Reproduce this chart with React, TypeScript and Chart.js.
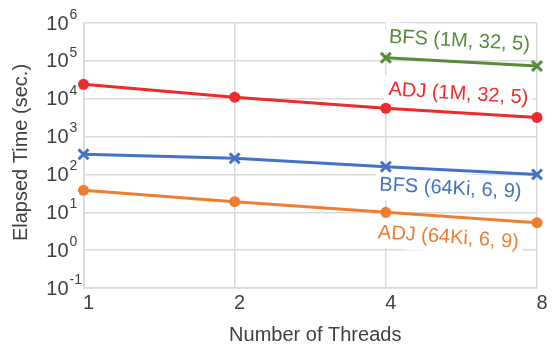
import React, { useEffect, useRef } from "react";
import { Chart, registerables } from "chart.js";

Chart.register(...registerables);

const threads = [1, 2, 4, 8];
const bfs1M = [null, null, 1.2e5, 7.3e4];
const adj1M = [2.4e4, 1.1e4, 5.6e3, 3.2e3];
const bfs64Ki = [340, 267, 160, 100];
const adj64Ki = [38, 19, 10, 5.3];

const xTickValues = [1, 2, 4, 8];
const yExponents = [-1, 0, 1, 2, 3, 4, 5, 6];

const seriesNames = ["BFS (1M, 32, 5)", "ADJ (1M, 32, 5)", "BFS (64Ki, 6, 9)", "ADJ (64Ki, 6, 9)"];
const seriesColors = ["#5A8A3C", "#EE2A2A", "#4472C4", "#ED7D31"];
// label offsets (pixels) relative to the midpoint of the 4→8 segment
const labelOffsets = [
  [-2, -21],
  [-3, -19],
  [-11, 18],
  [-13, 20],
];

const xTitle = "Number of Threads";
const yTitle = "Elapsed Time (sec.)";

const FONT = "'Liberation Sans', Arial, sans-serif";
const TEXT = "#404040";
const GRID = "#d9d9d9";

const toPts = (vals: (number | null)[]) => threads.map((t, i) => ({ x: t, y: vals[i] }));

const textPlugin = {
  id: "customText",
  beforeDatasetsDraw(chart: any) {
    const ctx = chart.ctx;
    ctx.save();
    ctx.font = `20px ${FONT}`;
    seriesNames.forEach((name, i) => {
      const meta = chart.getDatasetMeta(i);
      const p2 = meta.data[2];
      const p3 = meta.data[3];
      const ang = Math.atan2(p3.y - p2.y, p3.x - p2.x);
      const cx = (p2.x + p3.x) / 2 + labelOffsets[i][0];
      const cy = (p2.y + p3.y) / 2 + labelOffsets[i][1];
      const w = ctx.measureText(name).width;
      ctx.save();
      ctx.translate(cx, cy);
      ctx.rotate(ang);
      ctx.fillStyle = "#ffffff";
      ctx.fillRect(-w / 2 - 4, -15, w + 8, 30);
      ctx.fillStyle = seriesColors[i];
      ctx.textAlign = "center";
      ctx.textBaseline = "middle";
      ctx.fillText(name, 0, 0);
      ctx.restore();
    });
    ctx.restore();
  },
  afterDraw(chart: any) {
    const ctx = chart.ctx;
    const xs = chart.scales.x;
    const ys = chart.scales.y;
    const area = chart.chartArea;
    ctx.save();
    ctx.fillStyle = TEXT;
    // y tick labels
    yExponents.forEach((e) => {
      const py = ys.getPixelForValue(Math.pow(10, e));
      ctx.font = `20px ${FONT}`;
      ctx.textAlign = "right";
      ctx.textBaseline = "middle";
      ctx.fillText("10", area.left - 15, py + 1);
      ctx.font = `14px ${FONT}`;
      ctx.textAlign = "left";
      ctx.fillText(String(e).replace("-", "-"), area.left - 14, py - 8);
    });
    // x tick labels
    ctx.font = `20px ${FONT}`;
    ctx.textAlign = "center";
    ctx.textBaseline = "middle";
    xTickValues.forEach((v) => {
      const px = xs.getPixelForValue(v);
      ctx.fillText(String(v), px + 5, area.bottom + 15);
    });
    // x title
    ctx.fillText(xTitle, (area.left + area.right) / 2 + 5, area.bottom + 47);
    // y title
    ctx.save();
    ctx.translate(21, (area.top + area.bottom) / 2 - 3);
    ctx.rotate(-Math.PI / 2);
    ctx.fillText(yTitle, 0, 0);
    ctx.restore();
    ctx.restore();
  },
};

export default function App() {
  const ref = useRef<HTMLCanvasElement>(null);
  useEffect(() => {
    document.body.style.margin = "0";
    const canvas = ref.current!;
    const mk = (i: number, vals: (number | null)[], cross: boolean) => ({
      label: seriesNames[i],
      data: toPts(vals),
      borderColor: seriesColors[i],
      backgroundColor: seriesColors[i],
      borderWidth: 3,
      pointStyle: cross ? "crossRot" : "circle",
      pointRadius: cross ? 7 : 5.5,
      pointBorderWidth: cross ? 3 : 0,
      pointBorderColor: seriesColors[i],
      pointBackgroundColor: seriesColors[i],
      clip: false,
      spanGaps: false,
    });
    const chart = new Chart(canvas, {
      type: "line",
      data: {
        datasets: [
          mk(0, bfs1M, true),
          mk(1, adj1M, false),
          mk(2, bfs64Ki, true),
          mk(3, adj64Ki, false),
        ],
      },
      options: {
        animation: false,
        responsive: false,
        devicePixelRatio: 1,
        layout: { padding: { top: 23, right: 15, left: 0, bottom: 0 } },
        plugins: { legend: { display: false }, tooltip: { enabled: false } },
        scales: {
          x: {
            type: "logarithmic",
            min: 1,
            max: 8,
            afterBuildTicks: (s: any) => {
              s.ticks = xTickValues.map((v) => ({ value: v }));
            },
            afterFit: (s: any) => {
              s.height = 61;
            },
            ticks: { display: false },
            grid: { color: GRID, lineWidth: 1.5, drawTicks: false },
            border: { display: true, color: GRID, width: 1.5 },
          },
          y: {
            type: "logarithmic",
            min: 0.1,
            max: 1e6,
            afterBuildTicks: (s: any) => {
              s.ticks = yExponents.map((e) => ({ value: Math.pow(10, e) }));
            },
            afterFit: (s: any) => {
              s.width = 83.5;
            },
            ticks: { display: false },
            grid: { color: GRID, lineWidth: 1.5, drawTicks: false },
            border: { display: true, color: GRID, width: 1.5 },
          },
        },
      },
      plugins: [textPlugin],
    } as any);
    return () => chart.destroy();
  }, []);
  return <canvas ref={ref} width={552} height={349} style={{ display: "block" }} />;
}
